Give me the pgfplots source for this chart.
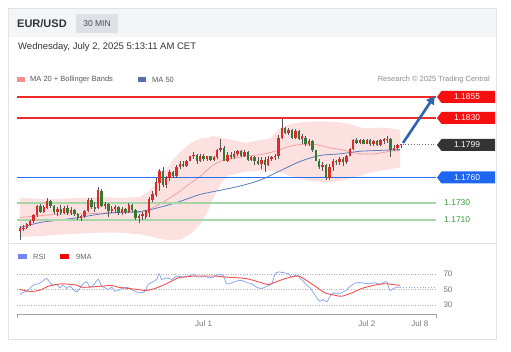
\documentclass[border=0pt]{standalone}
\usepackage{fontspec}
\setmainfont{Liberation Sans}
\usepackage{pgfplots}
\usepackage{pgfplotstable}
\pgfplotsset{compat=1.18}
\usetikzlibrary{arrows.meta}

\definecolor{upc}{HTML}{E0292B}
\definecolor{dnc}{HTML}{2E7D32}
\definecolor{wick}{HTML}{555555}
\definecolor{bbfill}{HTML}{FDE1E1}
\definecolor{ma20}{HTML}{F4A0A0}
\definecolor{ma50}{HTML}{5A7DBF}
\definecolor{resred}{HTML}{EE2A2A}
\definecolor{tagred}{HTML}{F50F0F}
\definecolor{tagblue}{HTML}{1E66F0}
\definecolor{lvlblue}{HTML}{2A6FF0}
\definecolor{lvlgreen}{HTML}{A8D5A8}
\definecolor{greentxt}{HTML}{3C9A3C}
\definecolor{tagdark}{HTML}{333333}
\definecolor{arrowblue}{HTML}{2E64AE}
\definecolor{rsiblue}{HTML}{8CA8F0}
\definecolor{rsired}{HTML}{F25050}
\definecolor{headbg}{HTML}{F4F5F7}
\definecolor{badge}{HTML}{DDE1E6}
\definecolor{cardline}{HTML}{E3E3E3}
\definecolor{txtgray}{HTML}{777777}

% 30-minute candles: index, open, high, low, close
\pgfplotstableread{
i o h l c
0 1.1697 1.1703 1.1685 1.1700
1 1.1699 1.1704 1.1697 1.1701
2 1.1701 1.1707 1.1699 1.1705
3 1.1704 1.1710 1.1703 1.1709
4 1.1709 1.1717 1.1707 1.1716
5 1.1716 1.1728 1.1713 1.1726
6 1.1726 1.1729 1.1718 1.1719
7 1.1719 1.1728 1.1718 1.1725
8 1.1724 1.1736 1.1723 1.1732
9 1.1732 1.1734 1.1724 1.1726
10 1.1726 1.1728 1.1717 1.1719
11 1.1719 1.1725 1.1715 1.1723
12 1.1723 1.1728 1.1716 1.1718
13 1.1718 1.1726 1.1717 1.1724
14 1.1724 1.1728 1.1716 1.1718
15 1.1718 1.1725 1.1716 1.1722
16 1.1722 1.1723 1.1715 1.1717
17 1.1717 1.1718 1.1710 1.1712
18 1.1712 1.1716 1.1709 1.1715
19 1.1715 1.1722 1.1712 1.1720
20 1.1720 1.1736 1.1719 1.1734
21 1.1734 1.1736 1.1723 1.1725
22 1.1725 1.1731 1.1719 1.1723
23 1.1724 1.1749 1.1723 1.1745
24 1.1744 1.1747 1.1725 1.1726
25 1.1726 1.1731 1.1723 1.1729
26 1.1729 1.1730 1.1713 1.1720
27 1.1720 1.1726 1.1718 1.1723
28 1.1723 1.1728 1.1718 1.1725
29 1.1725 1.1726 1.1716 1.1718
30 1.1718 1.1725 1.1716 1.1723
31 1.1723 1.1724 1.1717 1.1719
32 1.1719 1.1730 1.1718 1.1728
33 1.1728 1.1729 1.1719 1.1722
34 1.1722 1.1723 1.1710 1.1712
35 1.1712 1.1717 1.1706 1.1715
36 1.1715 1.1719 1.1710 1.1717
37 1.1713 1.1722 1.1711 1.1720
38 1.1718 1.1737 1.1713 1.1735
39 1.1734 1.1744 1.1731 1.1741
40 1.1740 1.1759 1.1737 1.1755
41 1.1754 1.1770 1.1744 1.1768
42 1.1768 1.1772 1.1749 1.1751
43 1.1751 1.1762 1.1748 1.1760
44 1.1759 1.1769 1.1756 1.1767
45 1.1767 1.1768 1.1760 1.1762
46 1.1762 1.1775 1.1760 1.1773
47 1.1773 1.1779 1.1770 1.1776
48 1.1776 1.1779 1.1772 1.1774
49 1.1774 1.1781 1.1773 1.1780
50 1.1780 1.1786 1.1779 1.1785
51 1.1785 1.1790 1.1782 1.1787
52 1.1787 1.1788 1.1776 1.1779
53 1.1779 1.1788 1.1778 1.1786
54 1.1786 1.1788 1.1780 1.1782
55 1.1782 1.1786 1.1780 1.1785
56 1.1785 1.1786 1.1780 1.1781
57 1.1781 1.1786 1.1779 1.1784
58 1.1784 1.1794 1.1782 1.1792
59 1.1792 1.1806 1.1790 1.1795
60 1.1795 1.1797 1.1779 1.1780
61 1.1780 1.1790 1.1778 1.1787
62 1.1787 1.1790 1.1782 1.1784
63 1.1784 1.1791 1.1782 1.1788
64 1.1788 1.1792 1.1785 1.1791
65 1.1791 1.1792 1.1784 1.1785
66 1.1785 1.1792 1.1784 1.1790
67 1.1790 1.1791 1.1780 1.1781
68 1.1781 1.1785 1.1779 1.1784
69 1.1784 1.1785 1.1775 1.1780
70 1.1780 1.1784 1.1775 1.1776
71 1.1776 1.1784 1.1770 1.1781
72 1.1781 1.1784 1.1766 1.1775
73 1.1775 1.1785 1.1774 1.1782
74 1.1782 1.1786 1.1780 1.1784
75 1.1784 1.1788 1.1781 1.1786
76 1.1785 1.1810 1.1782 1.1807
77 1.1807 1.1829 1.1805 1.1818
78 1.1818 1.1820 1.1811 1.1813
79 1.1813 1.1819 1.1810 1.1816
80 1.1816 1.1817 1.1806 1.1807
81 1.1807 1.1817 1.1806 1.1815
82 1.1815 1.1816 1.1804 1.1806
83 1.1806 1.1811 1.1800 1.1809
84 1.1807 1.1809 1.1797 1.1799
85 1.1799 1.1805 1.1797 1.1803
86 1.1803 1.1804 1.1790 1.1792
87 1.1792 1.1793 1.1779 1.1780
88 1.1780 1.1782 1.1770 1.1772
89 1.1772 1.1778 1.1768 1.1775
90 1.1775 1.1776 1.1757 1.1759
91 1.1759 1.1776 1.1757 1.1773
92 1.1773 1.1782 1.1768 1.1780
93 1.1780 1.1781 1.1775 1.1778
94 1.1778 1.1784 1.1775 1.1782
95 1.1782 1.1784 1.1774 1.1778
96 1.1778 1.1787 1.1776 1.1786
97 1.1786 1.1795 1.1785 1.1794
98 1.1794 1.1806 1.1792 1.1804
99 1.1804 1.1807 1.1800 1.1801
100 1.1801 1.1805 1.1799 1.1804
101 1.1804 1.1805 1.1799 1.1800
102 1.1800 1.1805 1.1799 1.1804
103 1.1804 1.1805 1.1797 1.1799
104 1.1799 1.1804 1.1797 1.1803
105 1.1803 1.1804 1.1797 1.1798
106 1.1798 1.1806 1.1797 1.1804
107 1.1803 1.1807 1.1799 1.1805
108 1.1804 1.1809 1.1801 1.1806
109 1.1806 1.1807 1.1784 1.1792
110 1.1792 1.1798 1.1791 1.1795
111 1.1795 1.1800 1.1793 1.1798
112 1.1798 1.1800 1.1795 1.1799
}\candles

% support / resistance levels
\pgfplotstableread{
x r1 r2 s1 s2 s3
-0.88 1.1855 1.1830 1.1760 1.1730 1.1710
122.35 1.1855 1.1830 1.1760 1.1730 1.1710
}\levels

\begin{document}
\begin{tikzpicture}[x=1pt,y=1pt]
\fill[white] (0,0) rectangle (511,352);
% card and header
\fill[headbg] (8.5,343.5) rectangle (496.5,315);
\draw[cardline, line width=0.8pt] (8.5,343.5) rectangle (496.5,12.5);
\draw[cardline, line width=0.8pt] (8.5,109) -- (496.5,109);
\node[anchor=west, inner sep=0pt, text=black!80, font=\fontsize{11}{13}\selectfont\bfseries] at (17,328.5) {EUR/USD};
\fill[badge] (76,338) rectangle (118,319);
\node[inner sep=0pt, text=black!70, font=\fontsize{8.5}{10}\selectfont] at (97,328.5) {30 MIN};
\node[anchor=west, inner sep=0pt, text=black!80, font=\fontsize{9.5}{11}\selectfont] at (18,305) {Wednesday, July 2, 2025 5:13:11 AM CET};
% legend
\fill[ma20!90!red] (17,274.5) rectangle (25,269.5);
\node[anchor=west, inner sep=0pt, text=black!65, font=\fontsize{7.5}{9}\selectfont] at (30,272) {MA 20 + Bollinger Bands};
\fill[ma50!90!black] (138,274.5) rectangle (146,269.5);
\node[anchor=west, inner sep=0pt, text=black!65, font=\fontsize{7.5}{9}\selectfont] at (152,272) {MA 50};
\node[anchor=east, inner sep=0pt, text=black!45, font=\fontsize{7.5}{9}\selectfont] at (490,272) {Research © 2025 Trading Central};

% main price panel
\begin{axis}[at={(17pt,112pt)}, anchor=south west, scale only axis,
  width=419pt, height=152pt, hide axis,
  xmin=-0.88, xmax=122.35, ymin=1.16864, ymax=1.18656]
  % Bollinger band (upper edge forward, lower edge back)
  \addplot[fill=bbfill, draw=none, forget plot] coordinates {
    (0,1.1736) (5.9,1.1735) (11.8,1.1735) (17.6,1.1736) (23.5,1.1737) (29.4,1.1736)
    (35.3,1.1737) (38.2,1.1745) (41.2,1.1760) (44.1,1.1776) (47.1,1.1790) (50,1.1800)
    (52.9,1.1806) (55,1.1807) (56.8,1.1809) (58.8,1.1807) (61.8,1.1805) (66.2,1.1801)
    (70.6,1.1804) (73.5,1.1806) (76.5,1.1818) (79.4,1.1823) (82.4,1.1825) (85.3,1.1826)
    (88.2,1.1826) (91.2,1.1826) (94.1,1.1825) (97.1,1.1823) (100,1.1819) (102.9,1.1818)
    (105.9,1.1819) (108.8,1.1818) (111.8,1.1816)
    (111.8,1.1772) (108.8,1.1770) (105.9,1.1768) (102.9,1.1766) (100,1.1762) (97.1,1.1759)
    (94.1,1.1756) (91.2,1.1755) (88.2,1.1755) (85.3,1.1756) (82.4,1.1759) (79.4,1.1762)
    (76.5,1.1766) (73.5,1.1768) (70.6,1.1768) (66.2,1.1767) (61.2,1.1762) (58.8,1.1751)
    (56.8,1.1735) (55,1.1718) (52.9,1.1704) (50,1.1693) (47.1,1.1687) (44.1,1.1686)
    (41.2,1.1688) (38.2,1.1691) (35.3,1.1693) (29.4,1.1695) (23.5,1.1695) (17.6,1.1694)
    (11.8,1.1693) (5.9,1.1691) (0,1.1690)} -- cycle;
  % MA 20
  \addplot[ma20, line width=0.8pt, smooth, forget plot] coordinates {
    (0,1.1713) (5.9,1.1715) (11.8,1.1717) (17.6,1.1717) (23.5,1.1718) (29.4,1.1719)
    (35.3,1.1719) (38.2,1.1723) (41.2,1.1729) (44.1,1.1736) (47.1,1.1744) (50,1.1753)
    (52.9,1.1761) (55.9,1.1772) (58.8,1.1779) (61.8,1.1782) (66.2,1.1785) (70.6,1.1787)
    (74.1,1.1790) (76.5,1.1793) (79.4,1.1797) (82.4,1.1799) (86.8,1.1799) (91.2,1.1795)
    (95.6,1.1792) (100,1.1788) (104.4,1.1788) (108.8,1.1791) (111.8,1.1792)};
  % MA 50
  \addplot[ma50, line width=0.8pt, smooth, forget plot] coordinates {
    (0,1.1701) (5.9,1.1707) (11.8,1.1710) (17.6,1.1713) (23.5,1.1717) (29.4,1.1719)
    (35.3,1.1720) (41.2,1.1725) (47.1,1.1732) (52.9,1.1740) (58.8,1.1745) (64.7,1.1750)
    (70.6,1.1757) (76.5,1.1768) (82.4,1.1779) (88.2,1.1786) (94.1,1.1788) (100,1.1791)
    (105.9,1.1792) (111.8,1.1793)};
  % levels
  \addplot[resred, line width=1.4pt, forget plot] table[x=x, y=r1] {\levels};
  \addplot[resred, line width=1.4pt, forget plot] table[x=x, y=r2] {\levels};
  \addplot[fill=lvlblue, draw=none, forget plot] coordinates
    {(-0.88,1.17593) (122.35,1.17593) (122.35,1.17607) (-0.88,1.17607)} -- cycle;
  \addplot[lvlgreen, line width=1.3pt, forget plot] table[x=x, y=s2] {\levels};
  \addplot[lvlgreen, line width=1.3pt, forget plot] table[x=x, y=s3] {\levels};
  \addplot[black!55, line width=0.8pt, dotted, forget plot] coordinates {(112.5,1.1799) (122.35,1.1799)};
  % wicks (low to high)
  \addplot[color=wick, line width=0.6pt, mark=none, forget plot,
    quiver={u=0, v=\thisrow{h}-\thisrow{l}}]
    table[x=i, y=l] {\candles};
  % bodies: rising (red), open to close
  \addplot[color=upc, line width=2.3pt, mark=none, forget plot,
    quiver={u=0, v={max(\thisrow{c}-\thisrow{o},0)}}]
    table[x=i, y=o] {\candles};
  % bodies: falling (green), close to open
  \addplot[color=dnc, line width=2.3pt, mark=none, forget plot,
    quiver={u=0, v={max(\thisrow{o}-\thisrow{c},0)}}]
    table[x=i, y=c] {\candles};
\end{axis}

% price tags
\fill[tagred] (437,255) -- (441.5,261) -- (495,261) -- (495,249) -- (441.5,249) -- cycle;
\node[text=white, inner sep=0pt, font=\fontsize{8.5}{10}\selectfont] at (467,255) {1.1855};
\fill[tagred] (437,234) -- (441.5,240) -- (495,240) -- (495,228) -- (441.5,228) -- cycle;
\node[text=white, inner sep=0pt, font=\fontsize{8.5}{10}\selectfont] at (467,234) {1.1830};
\fill[tagdark] (437,207) -- (441.5,213) -- (495,213) -- (495,201) -- (441.5,201) -- cycle;
\node[text=white, inner sep=0pt, font=\fontsize{8.5}{10}\selectfont] at (467,207) {1.1799};
\fill[tagblue] (437,174.5) -- (441.5,180.5) -- (495,180.5) -- (495,168.5) -- (441.5,168.5) -- cycle;
\node[text=white, inner sep=0pt, font=\fontsize{8.5}{10}\selectfont] at (467,174.5) {1.1760};
\node[anchor=west, text=greentxt, inner sep=0pt, font=\fontsize{8.5}{10}\selectfont] at (444,149) {1.1730};
\node[anchor=west, text=greentxt, inner sep=0pt, font=\fontsize{8.5}{10}\selectfont] at (444,132) {1.1710};
% forecast arrow
\draw[arrowblue, line width=2.6pt, -{Triangle[length=8pt,width=9pt]}] (403,209) -- (434.5,256);

% RSI legend
\fill[rsiblue!80!blue] (18,97.5) rectangle (27,93);
\node[anchor=west, inner sep=0pt, text=black!60, font=\fontsize{7.5}{9}\selectfont] at (33,95.3) {RSI};
\fill[red] (60,97.5) rectangle (69,93);
\node[anchor=west, inner sep=0pt, text=black!60, font=\fontsize{7.5}{9}\selectfont] at (76,95.3) {9MA};

% RSI panel
\begin{axis}[at={(17pt,37pt)}, anchor=south west, scale only axis,
  width=419pt, height=53pt,
  xmin=-0.88, xmax=122.35, ymin=17.1, ymax=85.5,
  axis x line*=bottom, axis y line*=right,
  x axis line style={draw=black!35, line width=1pt},
  y axis line style={draw=none},
  major tick length=0pt,
  xtick={54,102,117.6}, xticklabels={Jul 1, Jul 2, Jul 8},
  ytick={30,50,70},
  ymajorgrids, grid style={black!30, dotted, line width=0.7pt},
  /pgf/number format/assume math mode=true,
  tick label style={font=\fontsize{8}{9}\selectfont, text=txtgray},
  xticklabel style={yshift=-2.5pt},
  yticklabel style={xshift=4pt}]
  \addplot[rsiblue, line width=0.8pt, smooth, forget plot] coordinates {
    (0,43.5) (1.0,46.5) (2.4,48.7) (3.9,55.7) (5.4,57.4) (6.4,60) (7.9,64.3) (8.8,58.7)
    (9.8,55.7) (10.8,56.5) (11.8,52.2) (12.7,55.7) (13.7,51.3) (14.7,54.3) (15.7,50)
    (16.7,47) (17.6,51.3) (18.6,57.4) (19.6,60) (20.6,53) (21.6,55.7) (23.0,63) (24.0,54.3)
    (25.0,52.2) (26.0,50) (27.0,53) (27.9,47.8) (29.4,50) (30.9,53) (32.4,51.3) (33.3,48.7)
    (34.3,47) (35.3,45.7) (36.8,47.8) (37.7,56.5) (39.2,60) (40.2,63) (40.9,70.4) (41.7,63)
    (43.2,65.2) (44.6,63) (46.1,67.4) (47.6,66.1) (49.5,67.4) (51.0,69.6) (52.0,66.1)
    (52.9,66.1) (54.4,67.4) (55.4,65.2) (56.9,66.1) (58.5,69.8) (59.8,67.4) (60.8,57.4)
    (62.3,58.7) (63.7,60.9) (65.2,61.7) (66.7,58.7) (68.2,57.4) (69.6,53) (71.1,51.3)
    (72.6,54.3) (74.0,57.4) (75.0,69.6) (76.0,72.6) (77.4,71.7) (78.9,70.4) (79.9,66.1)
    (81.4,68.7) (82.4,64.3) (83.3,60.9) (84.3,55.7) (85.3,52.2) (86.3,45.7) (87.3,39.1)
    (88.2,34.8) (89.2,37) (90.2,33.9) (91.2,41.3) (92.2,45.7) (93.2,44.3) (94.6,45.7)
    (96.1,50) (97.6,55.7) (99.0,58.7) (100.5,58.7) (102.4,57.4) (104.4,58.7) (105.9,56.5)
    (106.9,58.7) (107.9,60) (108.8,48.7) (109.8,51.3) (110.8,53) (111.8,53)};
  \addplot[rsiblue, line width=0.8pt, dotted, forget plot] coordinates {(111.8,53) (122.2,53)};
  \addplot[rsired, line width=0.9pt, smooth, forget plot] coordinates {
    (0,50) (2.4,47.8) (4.4,47.8) (6.4,50) (8.3,54.3) (10.8,56.5) (12.7,57.4) (14.7,56.5)
    (16.7,55.7) (18.1,53) (20.1,53) (24.0,54.3) (26.9,55.2) (28.9,53) (31.9,51.3) (34.8,50)
    (36.8,48.7) (38.7,50) (40.7,53) (42.6,56.5) (44.6,60.9) (46.6,65.2) (48.5,66.1)
    (51.5,67.4) (55.4,67.4) (57.4,67.4) (60.3,66.1) (66.2,64.3) (70.1,60) (73.0,56.5)
    (75.9,60.9) (78.9,65.2) (81.9,67.4) (83.8,63) (86.8,54.3) (89.7,45.7) (92.6,42.6)
    (94.6,41.3) (97.6,45.7) (100.5,51.3) (104.4,55.7) (107.4,57.5) (110.3,56) (111.8,55.5)};
\end{axis}
\draw[black!35, line width=1pt] (17,37.5) -- (17,33.5);
\draw[black!35, line width=1pt] (436,37.5) -- (436,33.5);
\end{tikzpicture}
\end{document}
